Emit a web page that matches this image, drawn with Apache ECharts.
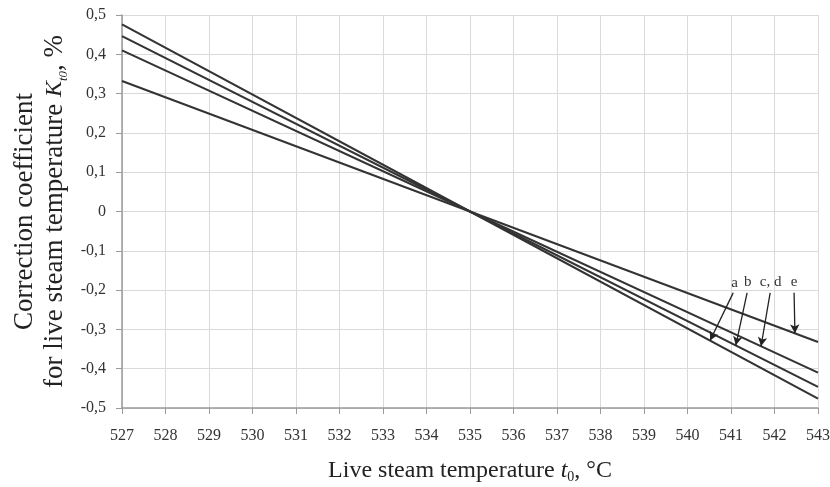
<!DOCTYPE html>
<html><head><meta charset="utf-8">
<script src="https://cdn.jsdelivr.net/npm/echarts@6/dist/echarts.min.js"></script>
<style>html,body{margin:0;padding:0;background:#fff}#c{width:830px;height:487px}</style>
</head><body><div id="c"></div>
<script>
// Data
const temps = [527, 535, 543];
const seriesNames = ['a', 'b', 'c, d', 'e'];
const valA = [0.476, 0, -0.476];
const valB = [0.446, 0, -0.446];
const valCD = [0.41, 0, -0.41];
const valE = [0.332, 0, -0.332];
const allValues = [valA, valB, valCD, valE];
// annotation arrows: label/arrow start (temp, value) and tip temperature
const arrowStartT = [541.05, 541.37, 541.9, 542.45];
const arrowStartV = [-0.207, -0.207, -0.207, -0.207];
const arrowTipT = [540.52, 541.11, 541.69, 542.47];

function interp(vals, t) {
  for (let i = 0; i < temps.length - 1; i++) {
    if (t >= temps[i] && t <= temps[i + 1]) {
      const f = (t - temps[i]) / (temps[i + 1] - temps[i]);
      return vals[i] + f * (vals[i + 1] - vals[i]);
    }
  }
  return vals[vals.length - 1];
}
const fmt = v => Math.abs(v) < 1e-9 ? '0' : v.toFixed(1).replace('.', ',');
const serif = 'Liberation Serif';

const series = allValues.map((vals, i) => ({
  type: 'line', name: seriesNames[i],
  data: temps.map((t, j) => [t, vals[j]]),
  showSymbol: false, symbol: 'none',
  lineStyle: { color: '#333', width: 2 },
  z: 3,
  markLine: {
    silent: true, symbol: ['none', 'arrow'], symbolSize: [7, 9],
    lineStyle: { color: '#222', width: 1.3, type: 'solid' },
    label: { show: true, position: 'start', distance: 3, formatter: seriesNames[i],
      fontFamily: serif, fontSize: 15, color: '#333' },
    data: [[{ coord: [arrowStartT[i], arrowStartV[i]] },
            { coord: [arrowTipT[i], interp(vals, arrowTipT[i])] }]]
  }
}));

const chart = echarts.init(document.getElementById('c'), null, { renderer: 'canvas' });
chart.setOption({
  animation: false,
  backgroundColor: '#fff',
  grid: { left: 122, right: 12, top: 15, bottom: 79, containLabel: false, outerBoundsMode: 'none' },
  xAxis: {
    type: 'value', min: 527, max: 543, interval: 1,
    name: 'Live steam temperature {i|t}{sub|0}, °C',
    nameLocation: 'middle', nameGap: 50,
    nameTextStyle: { fontFamily: serif, fontSize: 24, color: '#222',
      rich: { i: { fontFamily: serif, fontSize: 24, fontStyle: 'italic', color: '#222' },
              sub: { fontFamily: serif, fontSize: 14, color: '#222', verticalAlign: 'bottom', padding: [12, 0, 0, 0] } } },
    axisLine: { onZero: false, lineStyle: { color: '#9a9a9a', width: 1.5 } },
    axisTick: { show: true, length: 6, lineStyle: { color: '#9a9a9a' } },
    axisLabel: { fontFamily: serif, fontSize: 16, color: '#333', margin: 20 },
    splitLine: { show: true, lineStyle: { color: '#dadada', width: 1 } }
  },
  yAxis: {
    type: 'value', min: -0.5, max: 0.5, interval: 0.1,
    name: 'Correction coefficient\nfor live steam temperature {i|K}{sub|t0}, %',
    nameLocation: 'middle', nameGap: 50, nameRotate: 90,
    nameTextStyle: { fontFamily: serif, fontSize: 27, color: '#222', lineHeight: 30,
      rich: { i: { fontFamily: serif, fontSize: 24, fontStyle: 'italic', color: '#222' },
              sub: { fontFamily: serif, fontSize: 13, fontStyle: 'italic', color: '#222', verticalAlign: 'bottom', padding: [12, 0, 0, 0] } } },
    axisLine: { show: true, lineStyle: { color: '#9a9a9a', width: 1.5 } },
    axisTick: { show: true, length: 6, lineStyle: { color: '#9a9a9a' } },
    axisLabel: { fontFamily: serif, fontSize: 16, color: '#333', margin: 16, formatter: fmt },
    splitLine: { show: true, lineStyle: { color: '#dadada', width: 1 } }
  },
  series: series
});
</script></body></html>
